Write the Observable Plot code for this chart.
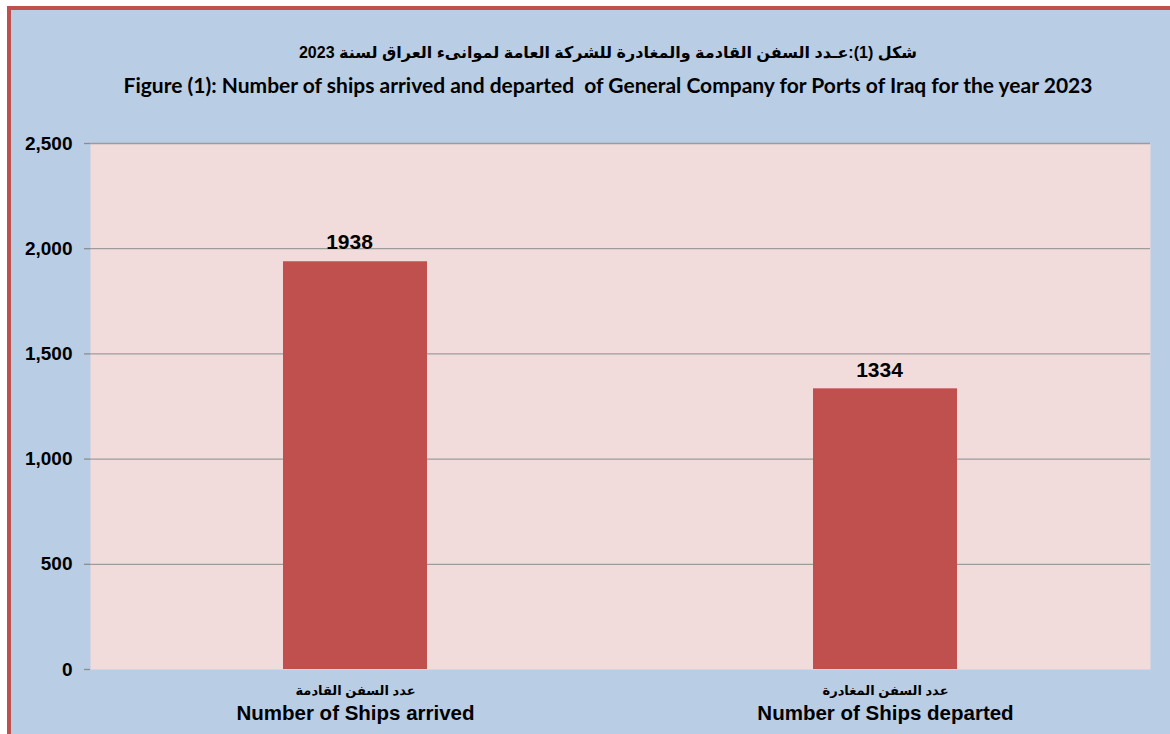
<!DOCTYPE html>
<html>
<head>
<meta charset="utf-8">
<script src="https://cdn.jsdelivr.net/npm/d3@7"></script>
<script src="https://cdn.jsdelivr.net/npm/@observablehq/plot@0.6"></script>
<style>
  html, body { margin: 0; padding: 0; background: #ffffff; overflow: hidden; }
  body { width: 1170px; height: 734px; position: relative; }
  #frame {
    position: absolute; left: 7px; top: 6px; width: 1200px; height: 800px;
    background: #B9CDE5; border: 4px solid #C0504D; box-sizing: border-box;
  }
  .t { position: absolute; left: 0; width: 1216px; text-align: center; font-weight: bold; color: #000; white-space: nowrap; }
  #t1 { top: 43px; font-family: Arial, "Liberation Sans", "DejaVu Sans", sans-serif; font-size: 16px; }
  #t2 { top: 72px; font-family: Lato, "Open Sans", sans-serif; font-size: 21px; }
  #chart { position: absolute; left: 0; top: 110px; clip-path: inset(0 0 0 14px); }
</style>
</head>
<body>
<div id="frame"></div>
<div class="t" id="t1" dir="rtl">شكل (1):عـدد السفن القادمة والمغادرة للشركة العامة لموانىء العراق لسنة 2023</div>
<div class="t" id="t2">Figure (1): Number of ships arrived and departed&nbsp; of General Company for Ports of Iraq for the year 2023</div>
<div id="chart"></div>
<script>
const categories = ["Number of Ships arrived", "Number of Ships departed"];
const arabicLabels = ["عدد السفن القادمة", "عدد السفن المغادرة"];
const values = [1938, 1334];
const yTicks = [0, 500, 1000, 1500, 2000, 2500];

const data = categories.map((c, i) => ({category: c, arabic: arabicLabels[i], value: values[i]}));

// axis lines and category separator ticks derived from the scales
function axisLines(index, scales, values, dimensions, context) {
  const x = scales.x;
  const step = x.step !== undefined ? x.step : (dimensions.width - dimensions.marginLeft - dimensions.marginRight) / categories.length;
  const bw = x.bandwidth;
  const y0 = scales.y(0);
  const yTop = scales.y(yTicks[yTicks.length - 1]);
  const g = d3.create("svg:g").attr("stroke", "#8c8c8c").attr("stroke-width", 1.3);
  const bounds = [];
  categories.forEach((c, i) => {
    const left = x(c) - (step - bw) / 2;
    bounds.push(left);
    if (i === categories.length - 1) bounds.push(left + step);
  });
  bounds.forEach(b => {
    g.append("line").attr("x1", b).attr("x2", b).attr("y1", y0).attr("y2", y0 + 6);
  });
  g.append("line")
    .attr("x1", bounds[0]).attr("x2", bounds[bounds.length - 1])
    .attr("y1", y0).attr("y2", y0);
  g.append("line")
    .attr("x1", bounds[0]).attr("x2", bounds[0])
    .attr("y1", yTop).attr("y2", y0);
  return g.node();
}

const pi = 1 - 144 / 530;
const chart = Plot.plot({
  width: 1170,
  height: 624,
  marginLeft: 90,
  marginRight: 20,
  marginTop: 33,
  marginBottom: 65,
  style: {background: "transparent", fontFamily: "Arial, 'Liberation Sans', 'DejaVu Sans', sans-serif", color: "#000"},
  x: {domain: categories, paddingInner: pi, paddingOuter: pi / 2, axis: null},
  y: {domain: [0, 2500], ticks: yTicks, axis: null},
  marks: [
    Plot.frame({fill: "#F2DCDB", stroke: null}),
    Plot.gridY(yTicks.filter(d => d > 0), {stroke: "#9c9c9c", strokeOpacity: 1, strokeWidth: 1.3}),
    Plot.barY(data, {x: "category", y: "value", fill: "#C0504D"}),
    Plot.axisY(yTicks, {
      label: null,
      tickSize: 6, tickPadding: 12, tickFormat: d3.format(","),
      fontSize: 19, fontWeight: "bold", stroke: "#8c8c8c", strokeWidth: 1.3, fill: "#000"
    }),
    axisLines,
    Plot.text(data, {x: "category", y: "value", text: d => String(d.value), dy: -19, dx: -6, fontSize: 21, fontWeight: "bold", fill: "#000"}),
    Plot.text(data, {x: "category", text: "arabic", frameAnchor: "bottom", dy: 25, fontSize: 13, fontWeight: "bold", fill: "#000"}),
    Plot.text(data, {x: "category", text: "category", frameAnchor: "bottom", dy: 50, fontSize: 20.5, fontWeight: "bold", fill: "#000"})
  ]
});
document.getElementById("chart").appendChild(chart);
</script>
</body>
</html>
